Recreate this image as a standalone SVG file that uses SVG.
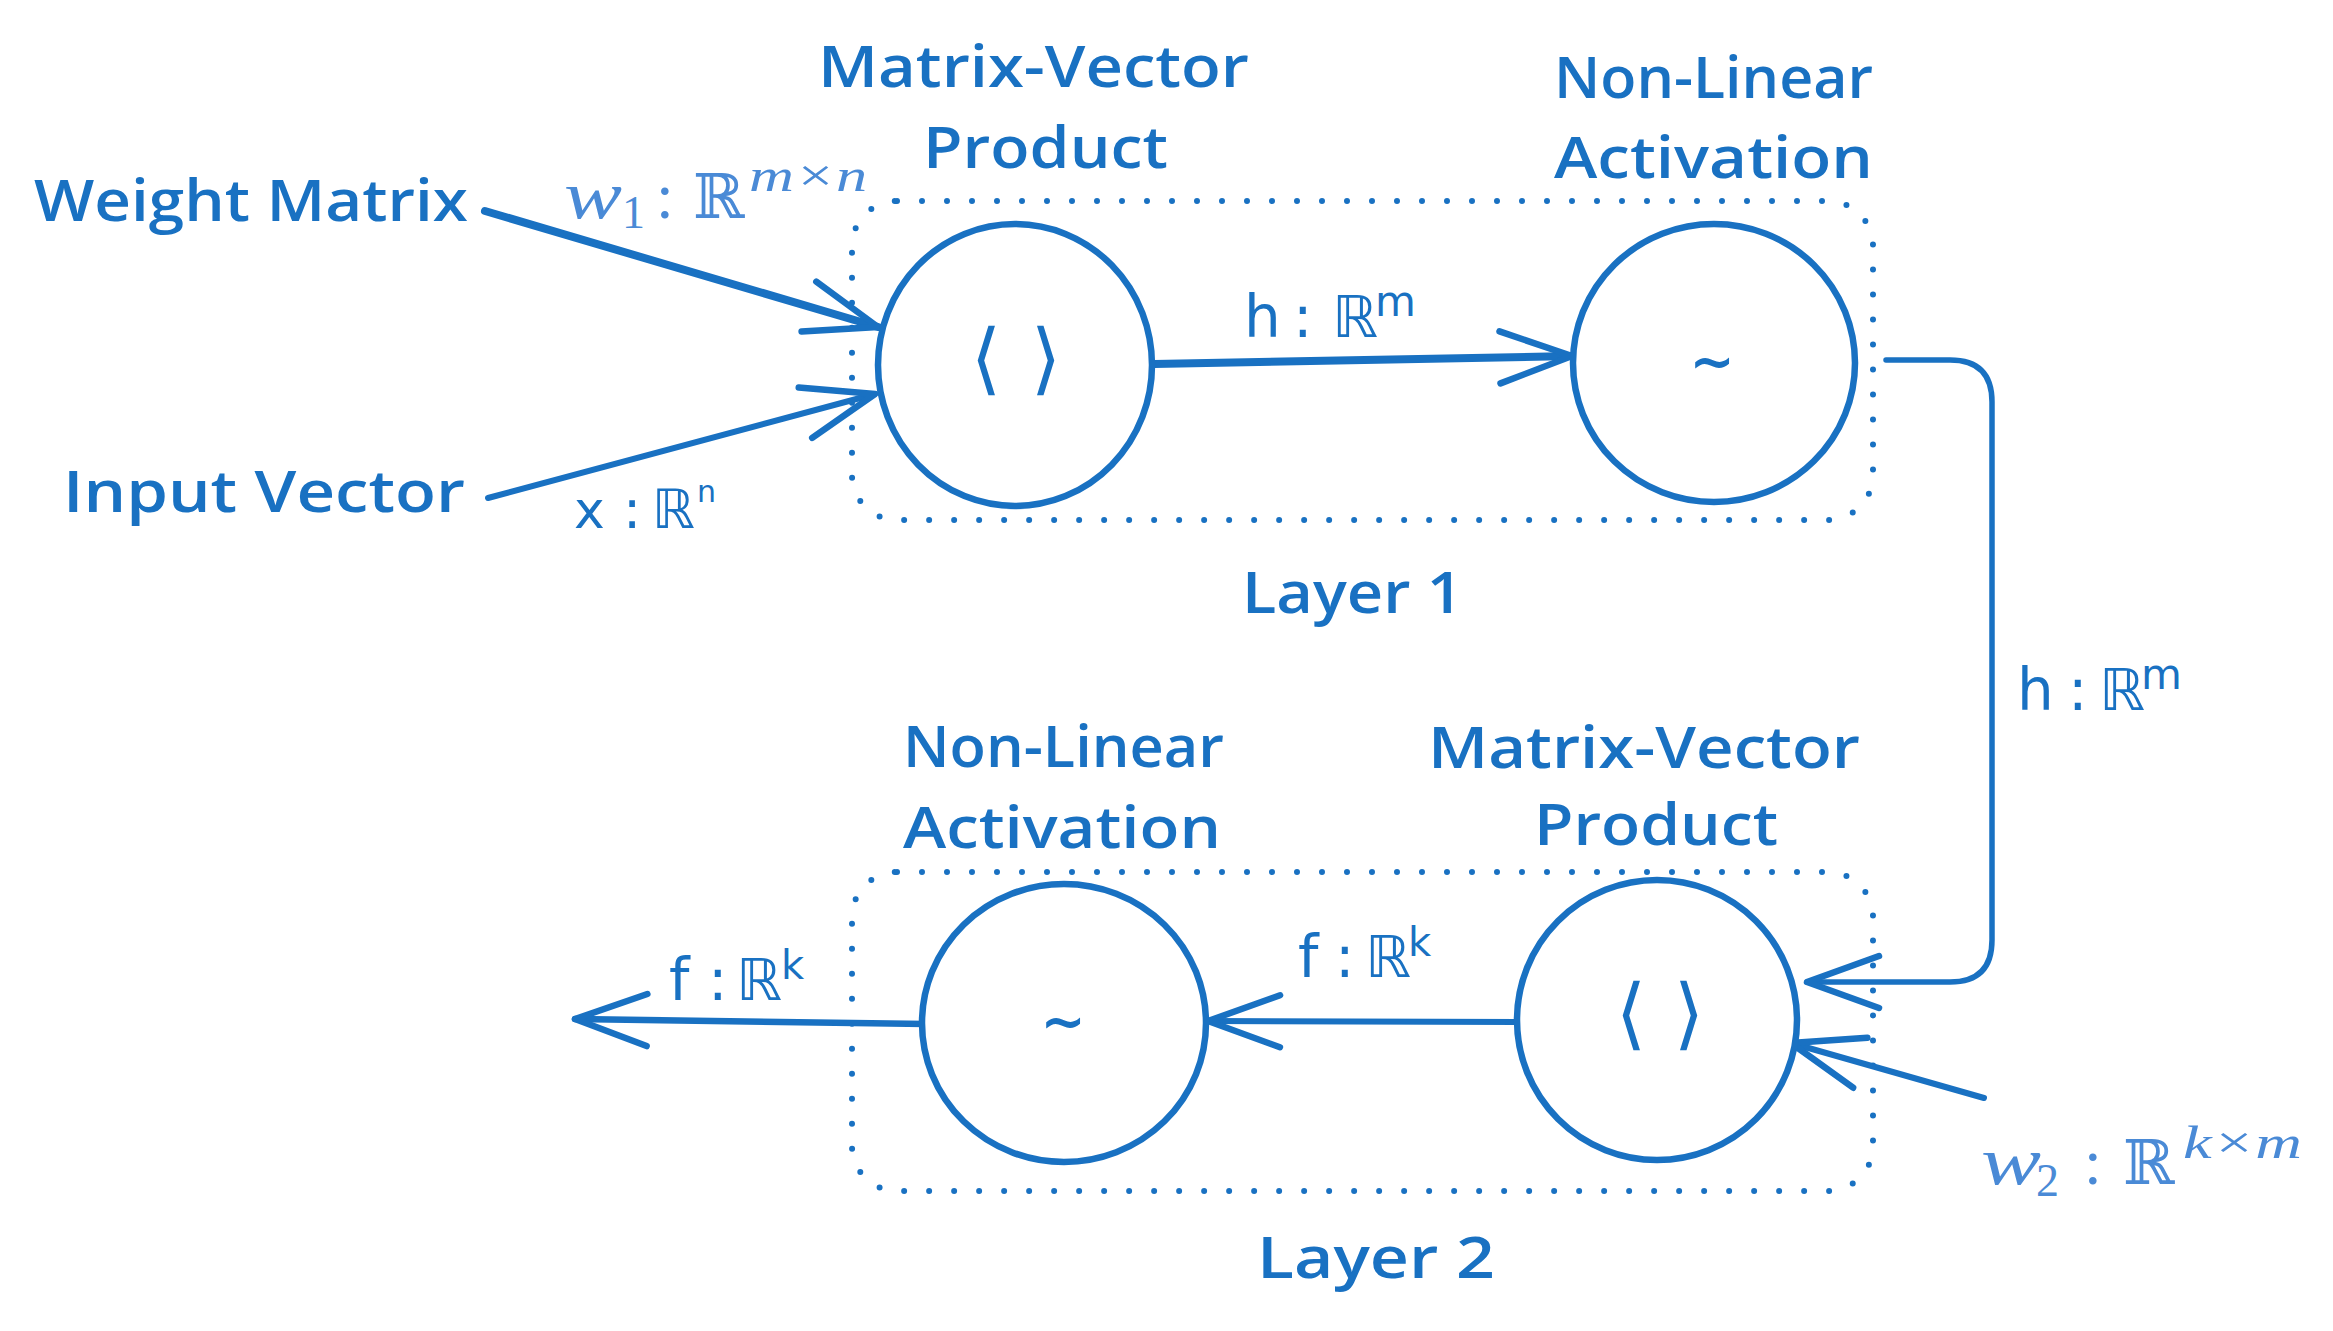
<svg xmlns="http://www.w3.org/2000/svg" width="2333" height="1331" viewBox="0 0 2333 1331">
<style>
.hand{font-family:"Open Sans",Lato,"Noto Sans",sans-serif;font-size:58px;font-weight:600;fill:#1971c2}
.m{font-family:"DejaVu Sans",sans-serif;fill:#1971c2}
.w{font-family:"Liberation Serif","DejaVu Serif",serif;fill:#4a8ad6}
.node{fill:#fff;stroke:#1971c2;stroke-width:6.5}
.grp{fill:none;stroke:#1971c2;stroke-width:6;stroke-dasharray:0 25;stroke-linecap:round}
.edge{fill:none;stroke:#1971c2;stroke-linecap:round;stroke-linejoin:round;marker-end:url(#ah)}
.sym{font-family:"DejaVu Sans",sans-serif;fill:#1971c2;text-anchor:middle}
</style>
<defs>
<marker id="ah" markerUnits="userSpaceOnUse" viewBox="-90 -40 100 80" markerWidth="100" markerHeight="80" refX="0" refY="0" orient="auto">
<path d="M-72,-26 L0,0 L-72,26" fill="none" stroke="#1971c2" stroke-width="6.5" stroke-linecap="round" stroke-linejoin="round"/>
</marker>
</defs>
<rect width="2333" height="1331" fill="#fff"/>

<g id="layer1">
<rect class="grp" x="852" y="201" width="1021" height="319" rx="45"/>
<text class="hand" x="1242" y="613" textLength="221" lengthAdjust="spacingAndGlyphs">Layer 1</text>
</g>
<g id="layer2">
<rect class="grp" x="852" y="872" width="1021" height="319" rx="45"/>
<text class="hand" x="1257" y="1278" textLength="238" lengthAdjust="spacingAndGlyphs">Layer 2</text>
</g>

<g id="connectors">
<path class="edge" stroke-width="8" d="M485 211 L878 327"/>
<path class="edge" stroke-width="6" d="M488 498 L875 394"/>
<path class="edge" stroke-width="8" d="M1154 364 L1572 356"/>
<path class="edge" stroke-width="5.5" d="M1886 360 L1950 360 Q1992 360 1992 402 L1992 940 Q1992 982 1950 982 L1807 982"/>
<path class="edge" stroke-width="6" d="M1517 1022 L1208 1021"/>
<path class="edge" stroke-width="6.5" d="M926 1024 L575 1019"/>
<path class="edge" stroke-width="6" d="M1984 1098 L1791 1043"/>
</g>

<g id="weight-matrix">
<text class="hand" x="34" y="221" textLength="434" lengthAdjust="spacingAndGlyphs">Weight Matrix</text>
</g>
<g id="input-vector">
<text class="hand" x="63" y="512" textLength="402" lengthAdjust="spacingAndGlyphs">Input Vector</text>
</g>

<g id="mv1">
<ellipse class="node" cx="1015" cy="365" rx="137" ry="141"/>
<text class="sym" x="986" y="385" font-size="78">⟨</text>
<text class="sym" x="1046" y="385" font-size="78">⟩</text>
<text class="hand" x="818" y="87" textLength="431" lengthAdjust="spacingAndGlyphs">Matrix-Vector</text>
<text class="hand" x="923" y="168" textLength="245" lengthAdjust="spacingAndGlyphs">Product</text>
</g>
<g id="act1">
<ellipse class="node" cx="1714" cy="363" rx="141" ry="139"/>
<text class="sym" x="1712" y="380" font-size="54" font-weight="bold">~</text>
<text class="hand" x="1554" y="98" textLength="319" lengthAdjust="spacingAndGlyphs">Non-Linear</text>
<text class="hand" x="1554" y="178" textLength="319" lengthAdjust="spacingAndGlyphs">Activation</text>
</g>
<g id="mv2">
<ellipse class="node" cx="1657" cy="1020" rx="140" ry="140"/>
<text class="sym" x="1631" y="1040" font-size="78">⟨</text>
<text class="sym" x="1689" y="1040" font-size="78">⟩</text>
<text class="hand" x="1428" y="768" textLength="432" lengthAdjust="spacingAndGlyphs">Matrix-Vector</text>
<text class="hand" x="1534" y="845" textLength="244" lengthAdjust="spacingAndGlyphs">Product</text>
</g>
<g id="act2">
<ellipse class="node" cx="1064" cy="1023" rx="142" ry="139"/>
<text class="sym" x="1063" y="1040" font-size="54" font-weight="bold">~</text>
<text class="hand" x="903" y="767" textLength="321" lengthAdjust="spacingAndGlyphs">Non-Linear</text>
<text class="hand" x="903" y="848" textLength="318" lengthAdjust="spacingAndGlyphs">Activation</text>
</g>

<g id="labels">
<text class="w" y="218"><tspan x="564" font-size="68" font-style="italic" textLength="58" lengthAdjust="spacingAndGlyphs">w</tspan><tspan x="622" y="228" font-size="46">1</tspan><tspan x="656" y="218" font-size="64">:</tspan><tspan x="693" y="218" font-size="62">ℝ</tspan><tspan x="749" y="191" font-size="46" font-style="italic" textLength="118" lengthAdjust="spacingAndGlyphs">m×n</tspan></text>
<text class="m" y="528"><tspan x="574" font-size="52">x</tspan><tspan x="623" font-size="54">:</tspan><tspan x="652" font-size="54">ℝ</tspan><tspan x="697" y="502" font-size="30">n</tspan></text>
<text class="m" y="337"><tspan x="1244" font-size="58">h</tspan><tspan x="1293" font-size="58">:</tspan><tspan x="1332" font-size="58">ℝ</tspan><tspan x="1375" y="316" font-size="42">m</tspan></text>
<text class="m" y="710"><tspan x="2017" font-size="58">h</tspan><tspan x="2068" font-size="58">:</tspan><tspan x="2099" font-size="58">ℝ</tspan><tspan x="2141" y="689" font-size="42">m</tspan></text>
<text class="m" y="977"><tspan x="1298" font-size="58">f</tspan><tspan x="1335" font-size="58">:</tspan><tspan x="1365" font-size="58">ℝ</tspan><tspan x="1408" y="956" font-size="40">k</tspan></text>
<text class="m" y="1000"><tspan x="669" font-size="58">f</tspan><tspan x="708" font-size="58">:</tspan><tspan x="736" font-size="58">ℝ</tspan><tspan x="781" y="979" font-size="40">k</tspan></text>
<text class="w" y="1184"><tspan x="1981" font-size="68" font-style="italic" textLength="60" lengthAdjust="spacingAndGlyphs">w</tspan><tspan x="2036" y="1196" font-size="46">2</tspan><tspan x="2084" y="1184" font-size="64">:</tspan><tspan x="2123" y="1184" font-size="62">ℝ</tspan><tspan x="2183" y="1158" font-size="46" font-style="italic" textLength="119" lengthAdjust="spacingAndGlyphs">k×m</tspan></text>
</g>
</svg>
